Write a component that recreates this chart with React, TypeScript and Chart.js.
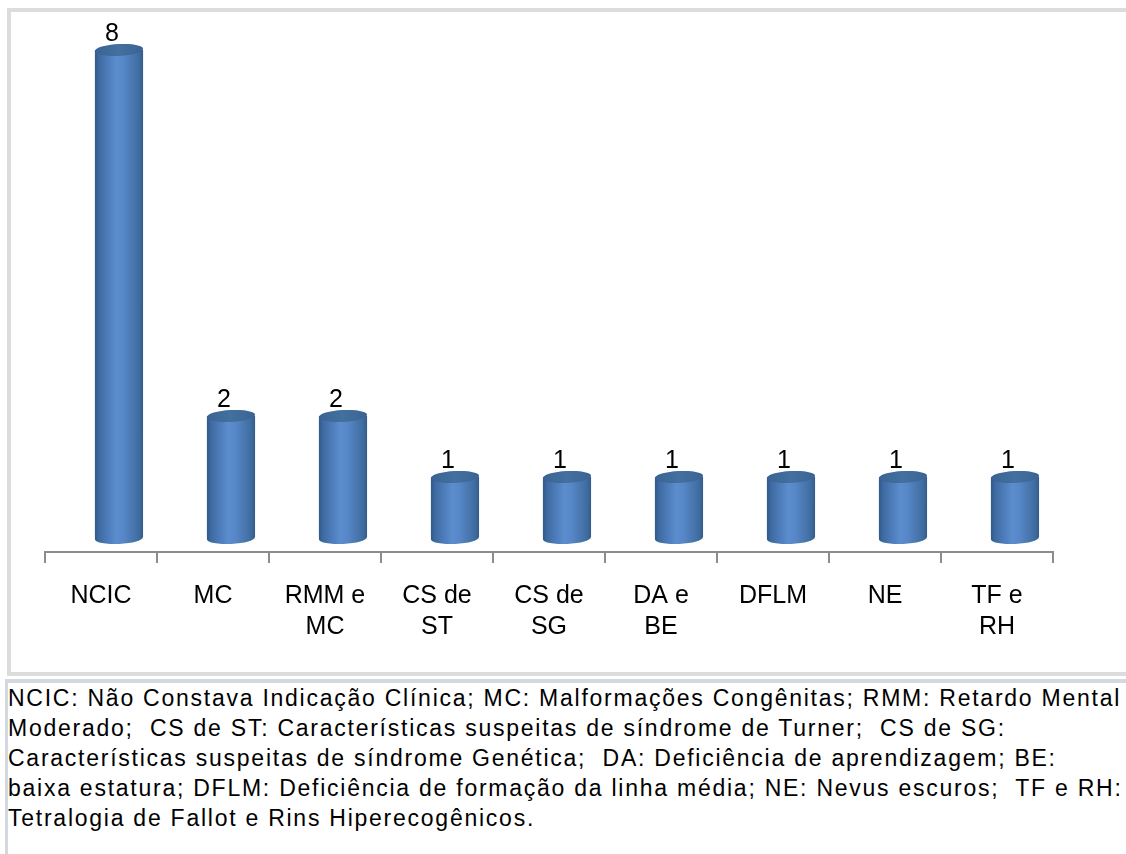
import React, { useEffect, useRef } from "react";
import { Chart, registerables } from "chart.js";

Chart.register(...registerables);

const categories: (string | string[])[] = [
  "NCIC",
  "MC",
  ["RMM e", "MC"],
  ["CS de", "ST"],
  ["CS de", "SG"],
  ["DA e", "BE"],
  "DFLM",
  "NE",
  ["TF e", "RH"],
];
const counts: number[] = [8, 2, 2, 1, 1, 1, 1, 1, 1];

const captionLines: string[] = [
  "NCIC: Não Constava Indicação Clínica; MC: Malformações Congênitas; RMM: Retardo Mental",
  "Moderado;  CS de ST: Características suspeitas de síndrome de Turner;  CS de SG:",
  "Características suspeitas de síndrome Genética;  DA: Deficiência de aprendizagem; BE:",
  "baixa estatura; DFLM: Deficiência de formação da linha média; NE: Nevus escuros;  TF e RH:",
  "Tetralogia de Fallot e Rins Hiperecogênicos.",
];

const FONT = "'Liberation Sans', Arial, sans-serif";
const DEPTH_X = 18;
const DEPTH_Y = 14;
const RY = 6;

const cylinderPlugin = {
  id: "cylinders",
  afterDatasetsDraw(chart: any) {
    const ctx: CanvasRenderingContext2D = chart.ctx;
    const meta = chart.getDatasetMeta(0);
    const yScale = chart.scales.y;
    const base = yScale.getPixelForValue(0) - DEPTH_Y;
    ctx.save();
    meta.data.forEach((el: any, i: number) => {
      const v = counts[i];
      const cx = el.x + DEPTH_X;
      const w = el.width;
      const x0 = cx - w / 2;
      const x1 = cx + w / 2;
      const top = yScale.getPixelForValue(v) - DEPTH_Y;
      const rot = -0.05;

      const g = ctx.createLinearGradient(x0, 0, x1, 0);
      g.addColorStop(0, "#2f5686");
      g.addColorStop(0.08, "#3e6aa1");
      g.addColorStop(0.45, "#5b8dcf");
      g.addColorStop(0.6, "#5686c6");
      g.addColorStop(0.92, "#3f6c9f");
      g.addColorStop(1, "#335b8a");
      ctx.beginPath();
      ctx.moveTo(x0, top);
      ctx.lineTo(x0, base);
      ctx.ellipse(cx, base, w / 2, RY, rot, Math.PI, 0, true);
      ctx.lineTo(x1, top);
      ctx.closePath();
      ctx.fillStyle = g;
      ctx.fill();

      const gt = ctx.createLinearGradient(x0, 0, x1, 0);
      gt.addColorStop(0, "#3a6394");
      gt.addColorStop(0.5, "#43709f");
      gt.addColorStop(1, "#3a6394");
      ctx.beginPath();
      ctx.ellipse(cx, top, w / 2, RY, rot, 0, Math.PI * 2);
      ctx.fillStyle = gt;
      ctx.fill();

      ctx.fillStyle = "#000";
      ctx.font = `25px ${FONT}`;
      ctx.textAlign = "center";
      ctx.textBaseline = "alphabetic";
      ctx.fillText(String(v), cx - 7, top - 9);
    });
    ctx.restore();
  },
};

export default function App() {
  const ref = useRef<HTMLCanvasElement | null>(null);

  useEffect(() => {
    if (!ref.current) return;
    const chart = new Chart(ref.current, {
      type: "bar",
      data: {
        labels: categories,
        datasets: [
          {
            data: counts,
            backgroundColor: "rgba(0,0,0,0)",
            borderWidth: 0,
            barPercentage: 0.43,
            categoryPercentage: 1,
          },
        ],
      },
      options: {
        responsive: false,
        animation: false,
        devicePixelRatio: 1,
        layout: { padding: { left: 45, right: 73, top: 33.5, bottom: 0 } },
        plugins: {
          legend: { display: false },
          tooltip: { enabled: false },
          title: { display: false },
        },
        scales: {
          y: {
            display: false,
            min: 0,
            max: 8.5,
          },
          x: {
            grid: {
              offset: true,
              drawOnChartArea: false,
              drawTicks: true,
              tickLength: 11,
              color: "#8c8c8c",
              lineWidth: 2,
            },
            border: { display: true, color: "#8c8c8c", width: 2 },
            ticks: {
              color: "#000",
              font: { family: FONT, size: 25, lineHeight: 1.24 },
              padding: 18,
              maxRotation: 0,
              autoSkip: false,
            },
            afterFit: (scale: any) => {
              scale.height = 124;
            },
          },
        },
      },
      plugins: [cylinderPlugin],
    });
    return () => chart.destroy();
  }, []);

  return (
    <div
      style={{
        position: "absolute",
        left: 0,
        top: 0,
        width: 1126,
        height: 854,
        overflow: "hidden",
        background: "#fff",
        fontFamily: FONT,
      }}
    >
      <div
        style={{
          position: "absolute",
          left: 7,
          top: 8,
          width: 1200,
          height: 676 - 8,
          border: "4px solid #dcdcdc",
          borderRight: "none",
          boxSizing: "border-box",
        }}
      />
      <canvas
        ref={ref}
        width={1126}
        height={676}
        style={{ position: "absolute", left: 0, top: 0 }}
      />
      <div
        style={{
          position: "absolute",
          left: 5,
          top: 679,
          width: 1200,
          height: 300,
          borderTop: "4px solid #d4d8e0",
          borderLeft: "3px solid #d4d8e0",
          boxSizing: "border-box",
          color: "#000",
          fontSize: 23,
          letterSpacing: "1.75px",
          lineHeight: "30px",
        }}
      >
        {captionLines.map((l, i) => (
          <div key={i} style={{ whiteSpace: "pre" }}>
            {l}
          </div>
        ))}
      </div>
    </div>
  );
}
